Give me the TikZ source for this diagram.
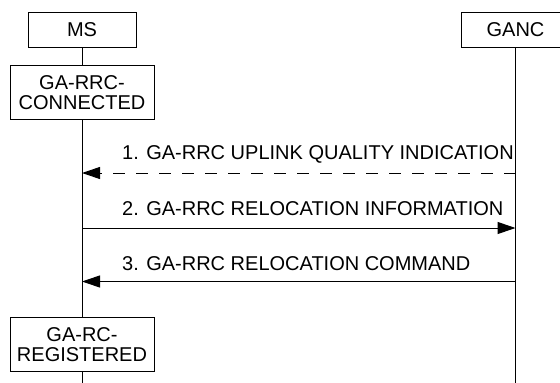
\documentclass[tikz,border=0pt]{standalone}
\usepackage{fontspec}
\setmainfont{Liberation Sans}
\usetikzlibrary{arrows.meta}

\begin{document}
\begin{tikzpicture}[x=1pt,y=-1pt]

\tikzstyle{entity} = [rectangle,draw=black,line width=1pt,minimum width=108pt,minimum height=35pt,inner sep=0pt,font=\fontsize{20}{20}\selectfont];%
\tikzstyle{state} = [rectangle,draw=black,fill=white,line width=1pt,minimum width=144pt,minimum height=54pt,inner sep=0pt,align=center,font=\fontsize{20}{20}\selectfont];
\tikzstyle{msg} = [anchor=base west,inner sep=0pt,font=\fontsize{20}{20}\selectfont];
\tikzstyle{dummy} = [inner sep=0pt, outer sep=0pt];

\useasboundingbox (0,0) rectangle (560,383);

\node[entity] at (82,29.5) (ms) {MS};
\node[entity,minimum width=109pt] at (515.5,29.5) (ganc) {GANC};
\coordinate (msend) at (82,383);
\coordinate (gancend) at (515.5,383);

\node[state] at (82,92.5) (conn) {GA-RRC-\\CONNECTED};
\node[state] at (82,344.5) (reg) {GA-RC-\\REGISTERED};

\path (ms) edge[-,line width=1pt] (conn);
\path (conn) edge[-,line width=1pt] (reg);
\path (reg) edge[-,line width=1pt] (msend);
\path (ganc) edge[-,line width=1pt] (gancend);

% messages
\coordinate (m1) at (82,173);
\coordinate (g1) at (515.5,173);
\node[msg] at (122,159) (l1) {1. GA-RRC UPLINK QUALITY INDICATION};
\path (g1) edge[-{Triangle[length=18pt,width=12pt]},line width=1pt,dash pattern=on 12pt off 11pt] (m1);

\coordinate (m2) at (82,228);
\coordinate (g2) at (515.5,228);
\node[msg] at (122,215) (l2) {2. GA-RRC RELOCATION INFORMATION};
\path (m2) edge[-{Triangle[length=18pt,width=12pt]},line width=1pt] (g2);

\coordinate (m3) at (82,281.5);
\coordinate (g3) at (515.5,281.5);
\node[msg] at (122,270) (l3) {3. GA-RRC RELOCATION COMMAND};
\path (g3) edge[-{Triangle[length=18pt,width=12pt]},line width=1pt] (m3);

\end{tikzpicture}
\end{document}
